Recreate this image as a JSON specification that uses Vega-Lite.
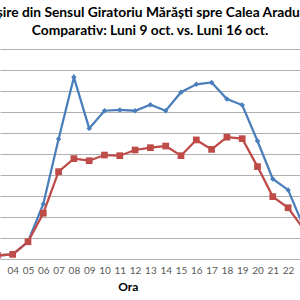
{
  "$schema": "https://vega.github.io/schema/vega-lite/v6.json",
  "autosize": "none",
  "padding": {"top": 49, "left": 0, "right": 0, "bottom": 41},
  "width": 300,
  "height": 210,
  "background": "white",
  "title": {
    "text": ["Ieșire din Sensul Giratoriu Mărăști spre Calea Aradului", "Comparativ: Luni 9 oct. vs. Luni 16 oct."],
    "anchor": "middle",
    "frame": "group",
    "font": "Lato",
    "fontSize": 13.8,
    "fontWeight": "bold",
    "color": "#000000",
    "lineHeight": 18,
    "baseline": "bottom",
    "offset": 0,
    "dy": 3
  },
  "config": {"view": {"stroke": null}},
  "data": {
    "values": [
      {"ora": 3, "serie": "Luni 9 oct.", "val": 17},
      {"ora": 4, "serie": "Luni 9 oct.", "val": 22},
      {"ora": 5, "serie": "Luni 9 oct.", "val": 82},
      {"ora": 6, "serie": "Luni 9 oct.", "val": 262},
      {"ora": 7, "serie": "Luni 9 oct.", "val": 571},
      {"ora": 8, "serie": "Luni 9 oct.", "val": 865},
      {"ora": 9, "serie": "Luni 9 oct.", "val": 622},
      {"ora": 10, "serie": "Luni 9 oct.", "val": 706},
      {"ora": 11, "serie": "Luni 9 oct.", "val": 710},
      {"ora": 12, "serie": "Luni 9 oct.", "val": 706},
      {"ora": 13, "serie": "Luni 9 oct.", "val": 735},
      {"ora": 14, "serie": "Luni 9 oct.", "val": 706},
      {"ora": 15, "serie": "Luni 9 oct.", "val": 794},
      {"ora": 16, "serie": "Luni 9 oct.", "val": 832},
      {"ora": 17, "serie": "Luni 9 oct.", "val": 841},
      {"ora": 18, "serie": "Luni 9 oct.", "val": 762},
      {"ora": 19, "serie": "Luni 9 oct.", "val": 733},
      {"ora": 20, "serie": "Luni 9 oct.", "val": 562},
      {"ora": 21, "serie": "Luni 9 oct.", "val": 381},
      {"ora": 22, "serie": "Luni 9 oct.", "val": 329},
      {"ora": 23, "serie": "Luni 9 oct.", "val": 157},
      {"ora": 3, "serie": "Luni 16 oct.", "val": 17},
      {"ora": 4, "serie": "Luni 16 oct.", "val": 22},
      {"ora": 5, "serie": "Luni 16 oct.", "val": 82},
      {"ora": 6, "serie": "Luni 16 oct.", "val": 218},
      {"ora": 7, "serie": "Luni 16 oct.", "val": 416},
      {"ora": 8, "serie": "Luni 16 oct.", "val": 478},
      {"ora": 9, "serie": "Luni 16 oct.", "val": 468},
      {"ora": 10, "serie": "Luni 16 oct.", "val": 495},
      {"ora": 11, "serie": "Luni 16 oct.", "val": 492},
      {"ora": 12, "serie": "Luni 16 oct.", "val": 519},
      {"ora": 13, "serie": "Luni 16 oct.", "val": 530},
      {"ora": 14, "serie": "Luni 16 oct.", "val": 538},
      {"ora": 15, "serie": "Luni 16 oct.", "val": 492},
      {"ora": 16, "serie": "Luni 16 oct.", "val": 567},
      {"ora": 17, "serie": "Luni 16 oct.", "val": 522},
      {"ora": 18, "serie": "Luni 16 oct.", "val": 580},
      {"ora": 19, "serie": "Luni 16 oct.", "val": 573},
      {"ora": 20, "serie": "Luni 16 oct.", "val": 440},
      {"ora": 21, "serie": "Luni 16 oct.", "val": 297},
      {"ora": 22, "serie": "Luni 16 oct.", "val": 244},
      {"ora": 23, "serie": "Luni 16 oct.", "val": 144}
    ]
  },
  "encoding": {
    "x": {
      "field": "ora",
      "type": "quantitative",
      "scale": {"domain": [3.17, 22.778], "nice": false, "zero": false},
      "axis": {
        "values": [3, 4, 5, 6, 7, 8, 9, 10, 11, 12, 13, 14, 15, 16, 17, 18, 19, 20, 21, 22],
        "format": "02d",
        "title": "Ora",
        "titleFont": "Lato",
        "titleFontSize": 12,
        "titleFontWeight": "bold",
        "titleColor": "#000000",
        "titleX": 127.7,
        "titleY": 31,
        "titleBaseline": "alphabetic",
        "titleAnchor": "middle",
        "labelFont": "Lato",
        "labelFontSize": 10,
        "labelColor": "#595959",
        "labelPadding": 6,
        "labelFlush": false,
        "labelOverlap": false,
        "labelBound": false,
        "ticks": false,
        "grid": false,
        "domainColor": "#b0b0b0",
        "domainWidth": 1
      }
    },
    "y": {
      "field": "val",
      "type": "quantitative",
      "scale": {"domain": [0, 1000], "nice": false},
      "axis": {
        "values": [100, 200, 300, 400, 500, 600, 700, 800, 900, 1000],
        "labels": false,
        "ticks": false,
        "domain": false,
        "title": null,
        "grid": true,
        "gridColor": "#b0b0b0",
        "gridWidth": 1
      }
    },
    "color": {
      "field": "serie",
      "type": "nominal",
      "scale": {"domain": ["Luni 9 oct.", "Luni 16 oct."], "range": ["#4a7ebb", "#be4b48"]},
      "legend": null
    }
  },
  "layer": [
    {"mark": {"type": "line", "strokeWidth": 2.25}},
    {
      "mark": {"type": "point", "filled": true, "opacity": 1},
      "encoding": {
        "shape": {
          "field": "serie",
          "type": "nominal",
          "scale": {"domain": ["Luni 9 oct.", "Luni 16 oct."], "range": ["diamond", "square"]},
          "legend": null
        },
        "size": {
          "field": "serie",
          "type": "nominal",
          "scale": {"domain": ["Luni 9 oct.", "Luni 16 oct."], "range": [30, 45]},
          "legend": null
        }
      }
    }
  ]
}
